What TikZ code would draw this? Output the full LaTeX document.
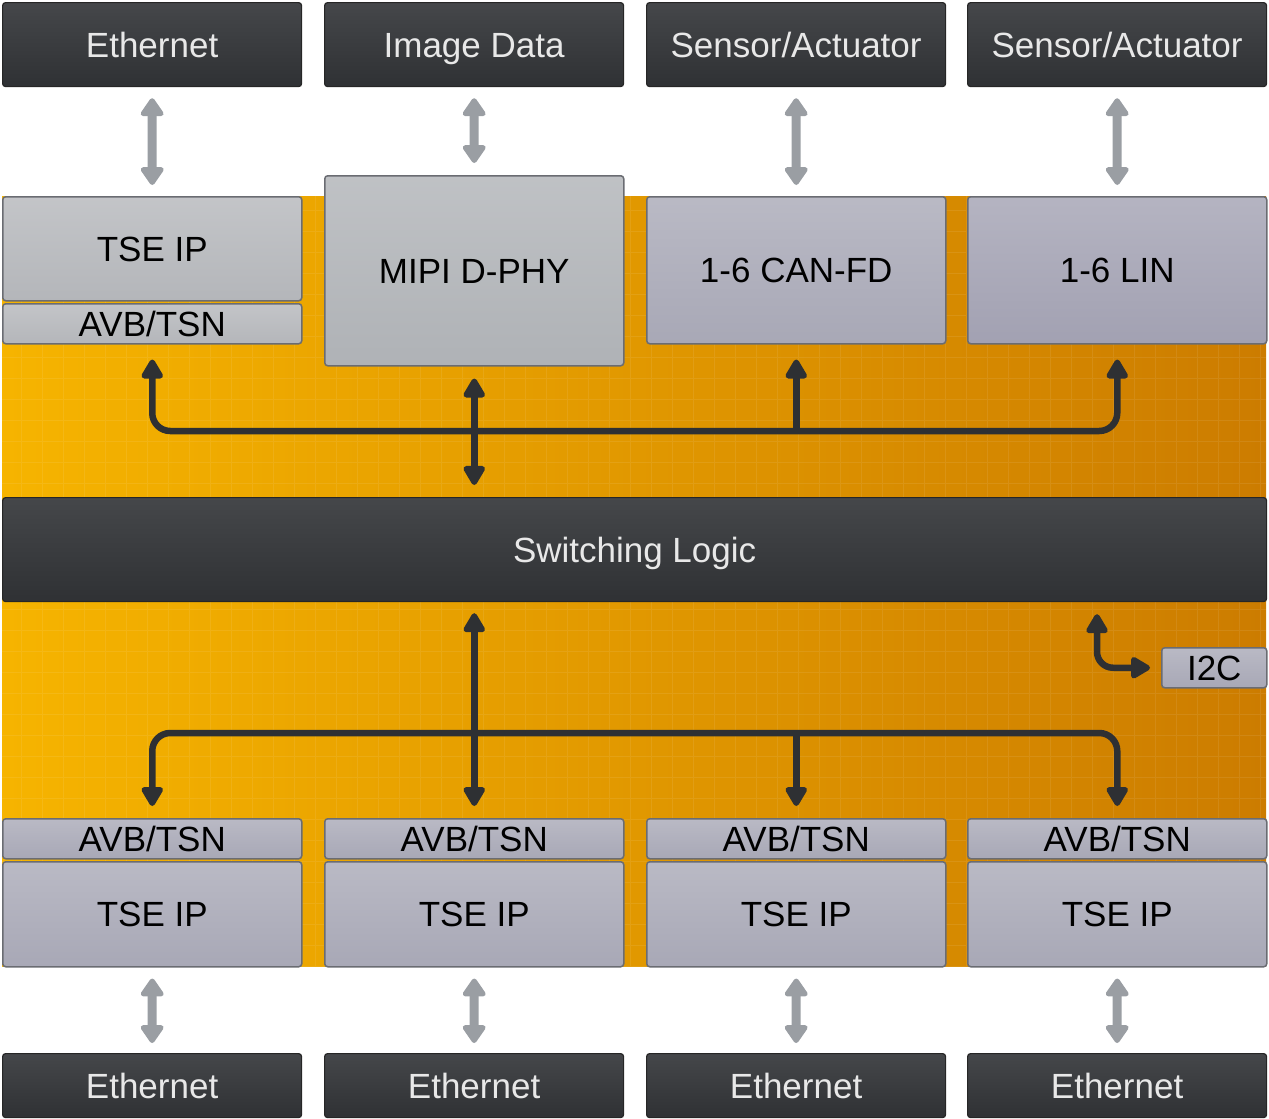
\documentclass[tikz,border=0pt]{standalone}
\usepackage{fontspec}
\setmainfont{Liberation Sans}
\usetikzlibrary{arrows.meta,calc}
\definecolor{dkT}{HTML}{45474A}
\definecolor{dkB}{HTML}{2F3134}
\definecolor{txtL}{HTML}{E8E8E8}
\definecolor{gA}{HTML}{B4B6BA}
\definecolor{gM}{HTML}{AFB2B6}
\definecolor{gC}{HTML}{A8A8B6}
\definecolor{gL}{HTML}{A2A1B2}
\definecolor{gEdge}{HTML}{6A6C72}
\definecolor{busC}{HTML}{2E3033}
\definecolor{arrG}{HTML}{9A9EA3}
\definecolor{orL}{HTML}{F6B400}
\definecolor{orR}{HTML}{CC7C00}
\tikzset{
  base/.style={rectangle, rounded corners=3pt, inner sep=0pt, anchor=north west,
    font=\fontsize{35}{40}\selectfont, text height=25pt, text depth=0pt},
  darkbox/.style={base, draw=black!85, line width=1.2pt, top color=dkT, bottom color=dkB, text=txtL},
  greybox/.style={base, draw=gEdge, line width=1.5pt, top color=#1!80!white, bottom color=#1, text=black},
  bus/.style={draw=busC, line width=6.5pt, arrows={-}},
  tipd/.tip={Triangle[length=22pt,width=24pt,round]},
  extarrow/.style={draw=arrG, line width=9pt, {Triangle[length=20pt,width=26pt,round]}-{Triangle[length=20pt,width=26pt,round]}},
}
\begin{document}
\begin{tikzpicture}[x=1pt,y=-1pt]
\useasboundingbox (0,0) rectangle (1269,1119);
% orange background
\shade[left color=orL, right color=orR] (2,196) rectangle (1266,966);
\draw[white, opacity=0.08, line width=0.6pt, step=21pt] (2,196) grid (1266,966);

% top external boxes
\node[darkbox, minimum width=299pt, minimum height=84pt] (eth1) at (2,2) {Ethernet};
\node[darkbox, minimum width=299pt, minimum height=84pt] (img) at (324,2) {Image Data};
\node[darkbox, minimum width=299pt, minimum height=84pt] (sa1) at (646,2) {Sensor/Actuator};
\node[darkbox, minimum width=299pt, minimum height=84pt] (sa2) at (967,2) {Sensor/Actuator};

% top blocks
\node[greybox=gA, minimum width=299pt, minimum height=104pt] (tse1) at (2,196) {TSE IP};
\node[greybox=gA, minimum width=299pt, minimum height=40pt] (avb1) at (2,303) {AVB/TSN};
\node[greybox=gM, minimum width=299pt, minimum height=190pt] (mipi) at (324,175) {MIPI D-PHY};
\node[greybox=gC, minimum width=299pt, minimum height=147pt] (can) at (646,196) {1-6 CAN-FD};
\node[greybox=gL, minimum width=299pt, minimum height=147pt] (lin) at (967,196) {1-6 LIN};

% switching logic
\node[darkbox, minimum width=1264pt, minimum height=104pt] (sw) at (2,497) {Switching Logic};

% I2C
\node[greybox=gC, minimum width=105pt, minimum height=40pt] (i2c) at (1161,647) {I2C};

% bottom blocks
\foreach \x/\i in {2/1,324/2,646/3,967/4}{
  \node[greybox=gC, minimum width=299pt, minimum height=40pt] (bavb\i) at (\x,818) {AVB/TSN};
  \node[greybox=gC, minimum width=299pt, minimum height=105pt] (btse\i) at (\x,861) {TSE IP};
  \node[darkbox, minimum width=299pt, minimum height=64pt] (beth\i) at (\x,1053) {Ethernet};
}

% external grey arrows
\draw[extarrow, shorten <=11pt, shorten >=11pt] (eth1.south) -- (tse1.north);
\draw[extarrow, shorten <=11pt, shorten >=12pt] (img.south) -- (mipi.north);
\draw[extarrow, shorten <=11pt, shorten >=11pt] (sa1.south) -- (can.north);
\draw[extarrow, shorten <=11pt, shorten >=11pt] (sa2.south) -- (lin.north);
\foreach \i in {1,2,3,4}{
  \draw[extarrow, shorten <=11pt, shorten >=10pt] (btse\i.south) -- (beth\i.north);
}

% top bus
\coordinate (bt) at (0,431);
\coordinate (a1) at ($(avb1.south)+(0,15)$);
\coordinate (a4) at ($(lin.south)+(0,15)$);
\draw[bus, {tipd}-{tipd}, rounded corners=18pt] (a1) -- (a1 |- bt) -- (a4 |- bt) -- (a4);
\draw[bus, -{tipd}] (can.south |- bt) -- ($(can.south)+(0,15)$);
\draw[bus, {tipd}-{tipd}, shorten <=12pt, shorten >=12pt] (mipi.south) -- (mipi.south |- sw.north);

% bottom bus
\coordinate (bb) at (0,733);
\coordinate (b1) at ($(bavb1.north)+(0,-12)$);
\coordinate (b4) at ($(bavb4.north)+(0,-12)$);
\draw[bus, {tipd}-{tipd}, rounded corners=18pt] (b1) -- (b1 |- bb) -- (b4 |- bb) -- (b4);
\draw[bus, -{tipd}] (bavb3.north |- bb) -- ($(bavb3.north)+(0,-12)$);
\draw[bus, {tipd}-{tipd}, shorten <=11pt, shorten >=12pt] (sw.south -| bavb2.north) -- (bavb2.north);

% I2C connector
\coordinate (ic) at (1097,0);
\coordinate (icT) at ($(sw.south -| ic)+(0,12)$);
\draw[bus, {tipd}-{tipd}, rounded corners=16pt] (icT) |- ($(i2c.west)+(-11,0)$);
\end{tikzpicture}
\end{document}
